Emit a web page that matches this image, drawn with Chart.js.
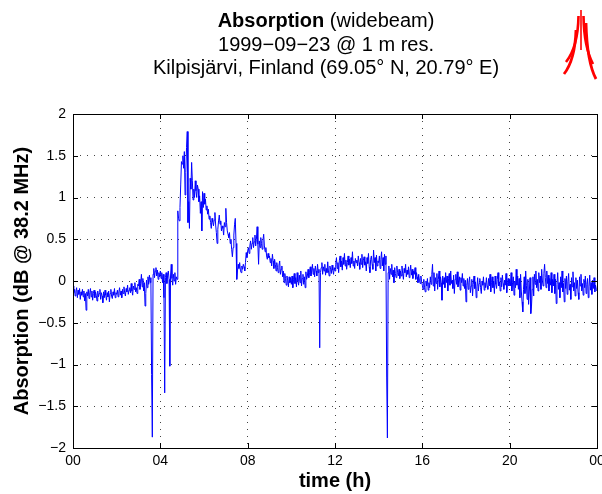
<!DOCTYPE html>
<html>
<head>
<meta charset="utf-8">
<script src="https://cdn.jsdelivr.net/npm/chart.js@4/dist/chart.umd.min.js"></script>
<style>
  html, body { margin: 0; padding: 0; background: #ffffff; }
  #wrap { position: relative; width: 602px; height: 494px; }
  canvas { display: block; }
</style>
</head>
<body>
<div id="wrap"><canvas id="c" width="602" height="494"></canvas></div>
<script>
// ---- data ----
const titleBold = "Absorption";
const titleRest = " (widebeam)";
const titleLine2 = "1999\u221209\u221223 @ 1 m res.";
const titleLine3 = "Kilpisj\u00e4rvi, Finland (69.05\u00b0 N, 20.79\u00b0 E)";
const yAxisTitle = "Absorption (dB @ 38.2 MHz)";
const xAxisTitle = "time (h)";
const xTickValues = [0, 4, 8, 12, 16, 20, 24];
const xTickLabels = ["00", "04", "08", "12", "16", "20", "00"];
const yTickValues = [2, 1.5, 1, 0.5, 0, -0.5, -1, -1.5, -2];
const yTickLabels = ["2", "1.5", "1", "0.5", "0", "\u22120.5", "\u22121", "\u22121.5", "\u22122"];
const sampleMinutes = 2; // spacing of the values below (minutes)
// absorption in dB, one value every 2 minutes from 00:00 to 24:00 (30 per hour)
const absorption = [
  // 00h
  -0.06,-0.14,-0.10,-0.18,-0.12,-0.08,-0.20,-0.11,-0.16,-0.09,-0.22,-0.13,-0.17,-0.10,-0.19,-0.12,-0.24,-0.15,-0.35,-0.13,-0.18,-0.10,-0.21,-0.14,-0.09,-0.19,-0.12,-0.23,-0.15,-0.11,
  // 01h
  -0.20,-0.13,-0.17,-0.24,-0.12,-0.19,-0.15,-0.10,-0.22,-0.14,-0.18,-0.26,-0.13,-0.20,-0.11,-0.17,-0.23,-0.14,-0.19,-0.12,-0.25,-0.15,-0.10,-0.18,-0.21,-0.13,-0.17,-0.09,-0.20,-0.14,
  // 02h
  -0.16,-0.11,-0.19,-0.13,-0.08,-0.17,-0.12,-0.20,-0.10,-0.15,-0.07,-0.14,-0.18,-0.09,-0.13,-0.05,-0.16,-0.11,-0.08,-0.14,-0.03,-0.12,-0.17,-0.06,-0.10,-0.02,-0.13,-0.08,-0.15,-0.04,
  // 03h
  -0.06,0.02,-0.10,-0.03,0.08,-0.07,0.03,-0.12,-0.02,-0.30,-0.15,0.01,-0.08,0.05,-0.04,0.07,-0.02,0.04,-1.12,-1.87,0.08,0.15,0.04,0.12,0.16,0.06,0.13,0.02,0.10,0.05,
  // 04h
  0.12,0.03,0.10,-0.02,0.08,-0.20,-1.34,0.04,0.10,-0.03,0.07,0.12,0.02,-1.02,0.06,0.20,0.03,-0.05,0.08,0.00,0.10,-0.04,0.05,0.02,0.84,0.75,0.72,0.88,1.15,1.43,
  // 05h
  1.40,1.50,1.35,1.55,1.03,1.30,1.60,1.79,0.70,0.95,0.63,1.23,1.10,1.42,1.20,0.97,1.10,1.00,1.20,1.08,1.00,1.15,1.10,0.95,1.02,0.81,0.95,0.60,1.07,0.88,
  // 06h
  1.05,0.92,0.98,0.85,0.90,0.80,0.86,0.74,0.78,0.70,0.63,0.75,0.71,0.66,0.73,0.82,0.67,0.58,0.45,0.62,0.72,0.79,0.68,0.72,0.60,0.66,0.63,0.55,0.70,0.65,
  // 07h
  0.87,0.70,0.60,0.56,0.52,0.58,0.45,0.50,0.38,0.29,0.40,0.55,0.68,0.75,0.45,0.02,0.12,0.20,0.15,0.22,0.13,0.10,0.18,0.14,0.20,0.17,0.12,0.22,0.34,0.28,
  // 08h
  0.36,0.40,0.33,0.42,0.48,0.38,0.45,0.52,0.40,0.47,0.55,0.42,0.50,0.65,0.44,0.20,0.48,0.40,0.52,0.45,0.38,0.49,0.56,0.42,0.35,0.40,0.30,0.26,0.33,0.28,
  // 09h
  0.30,0.22,0.27,0.18,0.32,0.24,0.15,0.26,0.20,0.12,0.22,0.16,0.10,0.19,0.24,0.08,0.14,0.18,0.05,0.12,-0.02,0.09,0.03,-0.05,0.06,0.01,-0.07,0.05,-0.02,0.04,
  // 10h
  -0.04,0.06,-0.08,0.02,0.09,-0.03,0.04,-0.07,0.10,0.00,-0.05,0.07,-0.02,0.12,-0.06,0.03,0.08,-0.04,0.05,-0.08,0.11,0.02,0.06,0.14,0.04,0.10,0.17,0.06,0.12,0.20,
  // 11h
  0.08,0.15,0.05,0.18,0.12,0.06,0.20,0.10,0.14,-0.80,0.10,0.16,0.22,0.08,0.17,0.12,0.20,0.07,0.15,0.10,0.23,0.12,0.06,0.18,0.14,0.09,0.19,0.13,0.08,0.16,
  // 12h
  0.12,0.20,0.28,0.15,0.22,0.10,0.25,0.30,0.17,0.24,0.13,0.28,0.20,0.33,0.18,0.25,0.14,0.22,0.30,0.19,0.26,0.16,0.28,0.21,0.35,0.18,0.24,0.15,0.27,0.22,
  // 13h
  0.25,0.18,0.30,0.22,0.14,0.27,0.20,0.32,0.16,0.25,0.29,0.19,0.23,0.12,0.28,0.21,0.33,0.17,0.10,0.26,0.30,0.20,0.14,0.37,0.22,0.28,0.12,0.31,0.18,0.24,
  // 14h
  0.22,0.30,0.15,0.26,0.35,0.18,0.28,0.12,0.32,0.20,0.30,-1.15,-1.88,0.10,0.18,0.02,0.15,0.08,0.20,0.05,0.13,-0.02,0.16,0.09,0.04,0.18,0.10,0.06,0.14,0.03,
  // 15h
  0.12,0.06,0.18,0.09,0.02,0.15,0.10,0.20,0.05,0.13,0.08,0.17,0.04,0.11,0.19,0.07,0.14,0.03,0.12,0.08,0.16,0.02,0.10,0.05,-0.02,0.08,0.01,-0.03,0.06,-0.01,
  // 16h
  -0.05,-0.10,0.02,-0.08,-0.13,0.00,-0.06,0.03,-0.11,-0.02,-0.08,0.05,-0.04,0.08,0.20,-0.06,0.10,-0.12,0.04,-0.03,0.09,-0.10,0.02,0.12,-0.07,0.05,-0.02,-0.23,0.06,-0.04,
  // 17h
  0.04,-0.08,0.10,-0.02,0.06,-0.12,0.03,0.09,-0.05,0.12,-0.03,0.01,-0.09,0.07,-0.15,0.02,0.08,-0.04,0.11,-0.07,0.00,0.05,-0.11,0.04,-0.02,0.09,-0.06,0.03,-0.09,0.01,
  // 18h
  -0.25,-0.05,0.03,-0.10,-0.02,0.05,-0.14,-0.06,0.02,-0.18,-0.04,0.06,-0.09,-0.01,-0.20,-0.07,0.04,-0.12,-0.03,0.03,-0.08,-0.15,0.00,-0.05,0.05,-0.11,-0.02,-0.08,0.04,-0.06,
  // 19h
  -0.10,0.03,-0.06,0.08,-0.13,-0.02,0.05,-0.08,0.00,-0.15,0.06,-0.04,-0.09,0.02,0.10,-0.06,-0.01,-0.12,0.04,-0.07,0.07,-0.03,-0.10,0.01,-0.05,0.09,-0.14,-0.02,0.03,-0.06,
  // 20h
  0.02,-0.06,0.10,-0.12,-0.02,0.05,-0.17,0.00,-0.08,0.14,-0.05,0.06,-0.10,0.03,-0.20,0.08,-0.12,-0.25,-0.37,-0.10,0.05,-0.15,0.12,-0.05,-0.22,0.02,-0.28,-0.12,0.04,-0.39,
  // 21h
  -0.30,-0.10,0.05,-0.18,0.08,-0.04,0.12,-0.08,0.02,-0.12,0.10,-0.02,0.06,-0.10,0.14,0.00,-0.06,0.09,0.20,0.04,-0.08,0.12,-0.03,0.07,-0.12,0.03,-0.05,0.10,-0.14,0.02,
  // 22h
  -0.06,0.08,-0.15,0.02,-0.27,-0.04,0.10,-0.10,-0.02,-0.20,0.05,-0.08,0.12,-0.13,-0.03,-0.25,0.03,-0.09,0.06,-0.16,-0.01,0.09,-0.11,-0.04,-0.22,0.04,-0.07,0.11,-0.12,-0.02,
  // 23h
  -0.18,0.04,-0.09,0.01,-0.14,-0.22,0.05,-0.06,0.08,-0.12,-0.03,-0.17,0.02,-0.08,0.06,-0.15,-0.04,0.03,-0.20,-0.07,0.07,-0.11,-0.02,-0.16,0.01,-0.09,0.04,-0.13,-0.05,-0.10,
  // 24h
  -0.12
];

// ---- build chart ----
const points = absorption.map((v, i) => ({ x: i * sampleMinutes / 60, y: v }));
const FONT = "'Liberation Sans', Arial, Helvetica, sans-serif";
const TITLE_PX = 20;

const decorPlugin = {
  id: 'decor',
  afterDraw(chart) {
    const ctx = chart.ctx;
    const a = chart.chartArea;
    const xs = chart.scales.x, ys = chart.scales.y;
    ctx.save();
    // box
    ctx.strokeStyle = '#000';
    ctx.lineWidth = 1;
    ctx.strokeRect(Math.round(a.left) + 0.5, Math.round(a.top) + 0.5,
                   Math.round(a.right - a.left), Math.round(a.bottom - a.top));
    // inward ticks
    const tl = 5;
    ctx.beginPath();
    xTickValues.forEach(v => {
      const px = Math.round(xs.getPixelForValue(v)) + 0.5;
      ctx.moveTo(px, a.bottom); ctx.lineTo(px, a.bottom - tl);
      ctx.moveTo(px, a.top); ctx.lineTo(px, a.top + tl);
    });
    yTickValues.forEach(v => {
      const py = Math.round(ys.getPixelForValue(v)) + 0.5;
      ctx.moveTo(a.left, py); ctx.lineTo(a.left + tl, py);
      ctx.moveTo(a.right, py); ctx.lineTo(a.right - tl, py);
    });
    ctx.stroke();

    // title
    const cx = 326;
    ctx.fillStyle = '#000';
    ctx.textBaseline = 'middle';
    ctx.textAlign = 'left';
    ctx.font = 'bold ' + TITLE_PX + 'px ' + FONT;
    const wb = ctx.measureText(titleBold).width;
    ctx.font = TITLE_PX + 'px ' + FONT;
    const wr = ctx.measureText(titleRest).width;
    const sx = cx - (wb + wr) / 2;
    ctx.font = 'bold ' + TITLE_PX + 'px ' + FONT;
    ctx.fillText(titleBold, sx, 21);
    ctx.font = TITLE_PX + 'px ' + FONT;
    ctx.fillText(titleRest, sx + wb, 21);
    ctx.textAlign = 'center';
    ctx.fillText(titleLine2, cx, 45);
    ctx.fillText(titleLine3, cx, 68);

    // logo
    ctx.strokeStyle = '#ff0000';
    ctx.lineCap = 'butt';
    const strokes = [
      [[581, 10], [581, 30], [581, 50], 1.6],
      [[578.5, 16], [578, 47], [566, 62], 2.6],
      [[576, 30], [575, 60], [564, 74], 2.8],
      [[583.5, 16], [584, 47], [593, 64], 2.6],
      [[586, 23], [587, 62], [596, 79], 2.8]
    ];
    strokes.forEach(s => {
      ctx.lineWidth = s[3];
      ctx.beginPath();
      ctx.moveTo(s[0][0], s[0][1]);
      ctx.quadraticCurveTo(s[1][0], s[1][1], s[2][0], s[2][1]);
      ctx.stroke();
    });
    ctx.restore();
  }
};

new Chart(document.getElementById('c'), {
  type: 'line',
  data: {
    datasets: [{
      data: points,
      borderColor: '#0000ff',
      borderWidth: 1,
      pointRadius: 0,
      tension: 0,
      fill: false
    }]
  },
  options: {
    responsive: false,
    animation: false,
    devicePixelRatio: 1,
    layout: { padding: { left: 0, right: 5, top: 114, bottom: 0 } },
    plugins: { legend: { display: false }, tooltip: { enabled: false }, title: { display: false } },
    scales: {
      x: {
        type: 'linear',
        min: 0, max: 24,
        afterBuildTicks(s) { s.ticks = xTickValues.map(v => ({ value: v })); },
        afterFit(s) { s.height = 46; s.paddingLeft = 0; s.paddingRight = 0; },
        ticks: {
          autoSkip: false, maxRotation: 0, minRotation: 0, padding: 5,
          color: '#000', font: { family: FONT, size: 14 },
          callback: (v) => { const i = xTickValues.indexOf(v); return i >= 0 ? xTickLabels[i] : ''; }
        },
        grid: { color: '#444', lineWidth: 1, drawTicks: false, tickLength: 0 },
        border: { display: false, dash: [1, 6] },
        title: { display: true, text: xAxisTitle, color: '#000', font: { family: FONT, size: TITLE_PX, weight: 'bold' }, padding: { top: 0, bottom: 1 } }
      },
      y: {
        type: 'linear',
        min: -2, max: 2,
        afterBuildTicks(s) { s.ticks = yTickValues.map(v => ({ value: v })); },
        afterFit(s) { s.width = 73; s.paddingTop = 0; s.paddingBottom = 0; },
        ticks: {
          autoSkip: false, padding: 7,
          color: '#000', font: { family: FONT, size: 14 },
          callback: (v) => { const i = yTickValues.indexOf(v); return i >= 0 ? yTickLabels[i] : ''; }
        },
        grid: { color: '#444', lineWidth: 1, drawTicks: false, tickLength: 0 },
        border: { display: false, dash: [1, 6] },
        title: { display: true, text: yAxisTitle, color: '#000', font: { family: FONT, size: TITLE_PX, weight: 'bold' }, padding: { top: 10, bottom: 0 } }
      }
    }
  },
  plugins: [decorPlugin]
});
</script>
</body>
</html>
